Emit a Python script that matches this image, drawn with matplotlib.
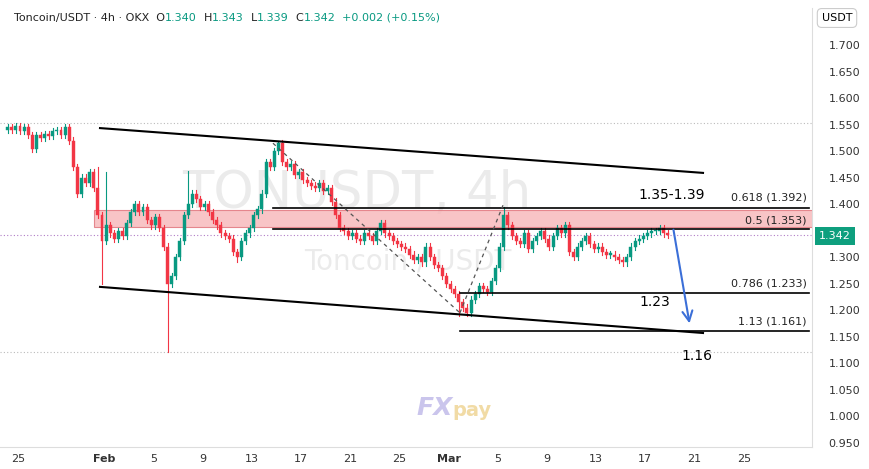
import matplotlib
matplotlib.use("Agg")
import matplotlib.pyplot as plt
from matplotlib.patches import Rectangle, FancyArrowPatch
import numpy as np

# daily closes, 3 candles per day (8h), starting Jan 24 (day index 23, Jan 1 = 0)
start_day = 23
closes_by_day = [
    [1.545,1.540,1.548],[1.538,1.545,1.530],[1.505,1.530,1.525],[1.532,1.528,1.538],
    [1.540,1.530,1.545],[1.520,1.470,1.420],[1.450,1.440,1.460],[1.430,1.380,1.330],
    [1.360,1.345,1.335],[1.350,1.340,1.365],[1.385,1.400,1.385],[1.395,1.370,1.360],
    [1.375,1.355,1.320],[1.250,1.265,1.300],[1.330,1.380,1.400],[1.420,1.410,1.395],
    [1.400,1.385,1.370],[1.360,1.345,1.340],[1.335,1.310,1.300],[1.330,1.345,1.355],
    [1.380,1.390,1.420],[1.480,1.470,1.500],[1.515,1.480,1.470],[1.475,1.455,1.460],
    [1.445,1.440,1.435],[1.430,1.440,1.425],[1.430,1.405,1.380],[1.355,1.350,1.340],
    [1.345,1.335,1.330],[1.345,1.340,1.330],[1.350,1.365,1.345],[1.340,1.330,1.325],
    [1.320,1.315,1.305],[1.295,1.300,1.290],[1.320,1.300,1.285],[1.280,1.265,1.250],
    [1.240,1.230,1.215],[1.205,1.195,1.220],[1.230,1.245,1.240],[1.235,1.255,1.280],
    [1.320,1.380,1.360],[1.340,1.330,1.325],[1.345,1.315,1.330],[1.340,1.350,1.335],
    [1.320,1.340,1.355],[1.345,1.360,1.310],[1.300,1.320,1.330],[1.340,1.325,1.315],
    [1.320,1.310,1.305],[1.305,1.300,1.295],[1.290,1.300,1.320],[1.330,1.335,1.340],
    [1.345,1.350,1.350],[1.355,1.345,1.342],
]
closes = [c for d in closes_by_day for c in d]
first_open = 1.540
# notable wick extremes: candle index -> price
spike_lows = {23: 1.250, 39: 1.121, 56: 1.290, 110: 1.190}
spike_highs = {22: 1.470, 24: 1.460, 44: 1.462, 66: 1.520, 121: 1.395, 159: 1.360}

ytick_vals = [0.95,1.0,1.05,1.1,1.15,1.2,1.25,1.3,1.4,1.45,1.5,1.55,1.6,1.65,1.7]
xtick_pos = [24,31,35,39,43,47,51,55,59,63,67,71,75,79,83]
xtick_lab = ["25","Feb","5","9","13","17","21","25","Mar","5","9","13","17","21","25"]

UP, DN = "#089981", "#F23645"
W, H = 870, 469
fig = plt.figure(figsize=(W/100, H/100), dpi=100)
ax = fig.add_axes([0, 1-447/H, 812/W, (447-8)/H])
ax.set_xlim(22.54, 88.55)
ax.set_ylim(0.942, 1.770)

opens = [first_open] + closes[:-1]
for i, (o, c) in enumerate(zip(opens, closes)):
    t = start_day + i/3 + 1/6
    col = UP if c >= o else DN
    hi = spike_highs.get(i, max(o, c) + 0.006)
    lo = spike_lows.get(i, min(o, c) - 0.006)
    ax.plot([t, t], [lo, hi], color=col, lw=0.8, zorder=3)
    ax.add_patch(Rectangle((t-0.12, min(o, c)), 0.24, max(abs(c-o), 0.002),
                           facecolor=col, edgecolor=col, lw=0.3, zorder=4))

# channel lines
ax.plot([30.67, 79.69], [1.5435, 1.459], color="black", lw=1.5, zorder=5)
ax.plot([30.67, 79.69], [1.244, 1.157], color="black", lw=1.5, zorder=5)
# zone
ax.add_patch(Rectangle((30.18, 1.357), 70, 0.032, facecolor="#f7b6b8", alpha=0.8,
                       edgecolor="#e07078", lw=0.8, zorder=2))
# fib lines
for lvl, x0 in [(1.392, 44.73), (1.353, 44.73), (1.233, 59.93), (1.161, 59.93)]:
    ax.plot([x0, 88.3], [lvl, lvl], color="black", lw=1.2, zorder=5)
# dashed lines
ax.plot([44.73, 59.93], [1.515, 1.195], color="#555", lw=0.9, ls=(0, (3, 3)), zorder=5)
ax.plot([59.93, 63.43], [1.195, 1.398], color="#555", lw=0.9, ls=(0, (3, 3)), zorder=5)
# dotted reference lines
ax.axhline(1.342, color="#b07cc6", lw=0.8, ls=(0, (1, 2)), zorder=1)
ax.axhline(1.553, color="#bbb", lw=0.8, ls=(0, (1, 2)), zorder=1)
ax.axhline(1.121, color="#bbb", lw=0.8, ls=(0, (1, 2)), zorder=1)
# arrow
ax.add_patch(FancyArrowPatch((77.25, 1.357), (78.63, 1.170), arrowstyle="->",
                             mutation_scale=18, color="#3b6fd8", lw=1.5, zorder=6))

# watermark
ax.text(357/812*66.01+22.54, 1.420, "TONUSDT, 4h", fontsize=37, color="#000",
        alpha=0.08, ha="center", va="center", zorder=0)
ax.text(408/812*66.01+22.54, 1.292, "Toncoin / USDT", fontsize=20, color="#000",
        alpha=0.08, ha="center", va="center", zorder=0)
fig.text(416/W, 1-408/H, "FX", fontsize=18, color="#8b7fd6", alpha=0.45,
         fontweight="bold", style="italic", ha="left", va="center")
fig.text(452/W, 1-410/H, "pay", fontsize=14, color="#e8c36a", alpha=0.6,
         fontweight="bold", ha="left", va="center")

# annotations
fig.text(672/W, 1-195/H, "1.35-1.39", fontsize=10, ha="center", va="center")
fig.text(655/W, 1-302/H, "1.23", fontsize=10, ha="center", va="center")
fig.text(697/W, 1-356/H, "1.16", fontsize=10, ha="center", va="center")
for txt, y in [("0.618 (1.392)", 197), ("0.5 (1.353)", 220), ("0.786 (1.233)", 283), ("1.13 (1.161)", 321)]:
    fig.text(807/W, 1-y/H, txt, fontsize=8, ha="right", va="center", color="#222")

# axes styling
for s in ["top", "left"]:
    ax.spines[s].set_visible(False)
ax.spines["right"].set_color("#ddd")
ax.spines["bottom"].set_color("#ddd")
ax.yaxis.tick_right()
ax.set_yticks(ytick_vals)
ax.set_yticklabels([f"{v:.3f}" for v in ytick_vals], fontsize=8, color="#333")
ax.tick_params(axis="y", length=0, pad=12)
ax.set_xticks(xtick_pos)
ax.set_xticklabels(xtick_lab, fontsize=8, color="#333")
for lab, txt in zip(ax.get_xticklabels(), xtick_lab):
    if txt in ("Feb", "Mar"):
        lab.set_fontweight("bold")
ax.tick_params(axis="x", length=0, pad=5)

fig.text(837/W, 1-18/H, "USDT", fontsize=8, ha="center", va="center",
         bbox=dict(boxstyle="round,pad=0.4", fc="white", ec="#ccc", lw=0.8))
fig.text(835/W, 1-236/H, "1.342", fontsize=8, ha="center", va="center", color="white",
         bbox=dict(boxstyle="square,pad=0.35", fc="#0e9f7e", ec="none"))

# header
hx = 14/W; hy = 1-18/H
parts = [("Toncoin/USDT · 4h · OKX  O", "#222"), ("1.340", UP), ("  H", "#222"), ("1.343", UP),
         ("  L", "#222"), ("1.339", UP), ("  C", "#222"), ("1.342", UP), ("  +0.002 (+0.15%)", UP)]
renderer = fig.canvas.get_renderer()
x = hx
for p, col in parts:
    t = fig.text(x, hy, p, fontsize=8, color=col, ha="left", va="center")
    bb = t.get_window_extent(renderer=renderer)
    x += bb.width / W

fig.savefig("out.png", dpi=100, facecolor="white")
